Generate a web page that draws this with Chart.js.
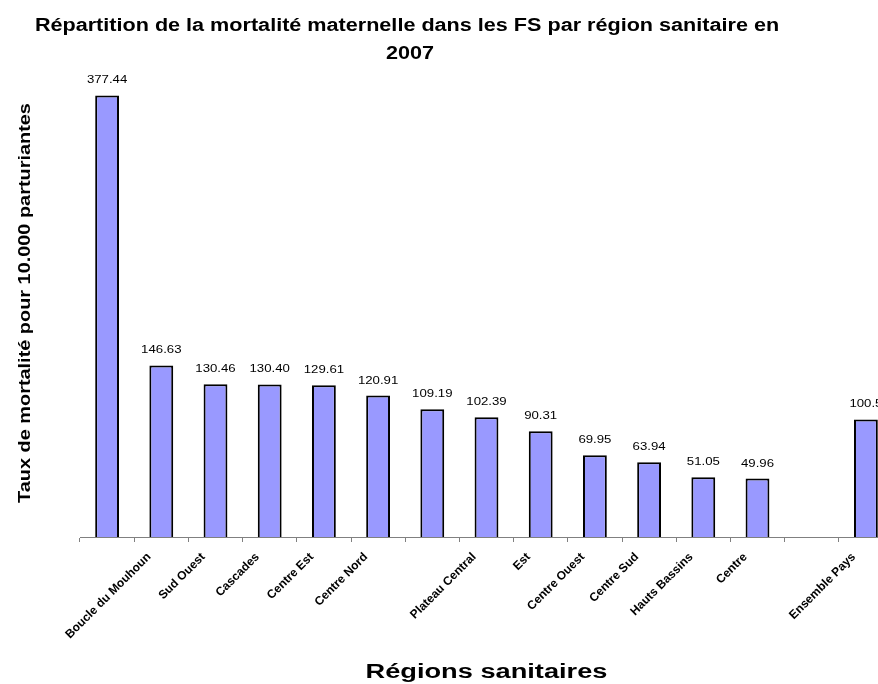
<!DOCTYPE html>
<html lang="fr">
<head>
<meta charset="utf-8">
<title>Mortalité maternelle 2007</title>
<script src="https://cdn.jsdelivr.net/npm/chart.js@4.4.0/dist/chart.umd.min.js"></script>
<style>
    html, body { margin: 0; padding: 0; background: #fff; overflow: hidden; }
    #wrap { width: 900px; height: 684px; }
</style>
</head>
<body>
<div id="wrap"><canvas id="chart" width="900" height="684"></canvas></div>
<script>
// Catégories (régions sanitaires), telles qu'affichées sous l'axe
const regions = [
    'Boucle du Mouhoun', 'Sud Ouest', 'Cascades', 'Centre Est', 'Centre Nord', '',
    'Plateau Central', 'Est', 'Centre Ouest', 'Centre Sud', 'Hauts Bassins', 'Centre', '',
    'Ensemble Pays', ''
];

// Taux de mortalité pour 10.000 parturiantes
const taux = [377.44, 146.63, 130.46, 130.40, 129.61, 120.91, 109.19, 102.39, 90.31, 69.95, 63.94, 51.05, 49.96, null, 100.5];
const tauxTexte = ['377.44', '146.63', '130.46', '130.40', '129.61', '120.91', '109.19', '102.39', '90.31', '69.95', '63.94', '51.05', '49.96', '', '100.5'];

const titre = ['Répartition de la mortalité maternelle dans les FS par région sanitaire en', '2007'];
const titreX = 'Régions sanitaires';
const titreY = 'Taux de mortalité pour 10.000 parturiantes';
const FONT = "'Liberation Sans', Arial, sans-serif";

/**
 * Draw text stretched along its direction (the original texts are wider than Arial)
 */
function drawStretched(ctx, text, x, y, font, sx, rotation) {
    ctx.save();
    ctx.font = font;
    ctx.translate(x, y);
    if (rotation) ctx.rotate(rotation);
    ctx.scale(sx, 1);
    ctx.fillText(text, 0, 0);
    ctx.restore();
}

/**
 * Titres du graphique et des axes
 */
const titlePlugin = {
    id: 'titles',
    afterDraw(chart) {
        const ctx = chart.ctx;
        const area = chart.chartArea;
        ctx.save();
        ctx.fillStyle = '#000';
        ctx.textAlign = 'center';
        ctx.textBaseline = 'alphabetic';
        drawStretched(ctx, titre[0], 407, 31, 'bold 18px ' + FONT, 1.2);
        drawStretched(ctx, titre[1], 410, 59, 'bold 18px ' + FONT, 1.2);
        drawStretched(ctx, titreX, (area.left + area.right) / 2, 678, 'bold 20px ' + FONT, 1.36);
        drawStretched(ctx, titreY, 30, (area.top + area.bottom) / 2, 'bold 17px ' + FONT, 1.17, -Math.PI / 2);
        ctx.restore();
    }
};

/**
 * Valeurs au-dessus des barres
 */
const valuePlugin = {
    id: 'valueLabels',
    afterDatasetsDraw(chart) {
        const ctx = chart.ctx;
        const meta = chart.getDatasetMeta(0);
        ctx.save();
        ctx.fillStyle = '#000';
        ctx.textAlign = 'center';
        ctx.textBaseline = 'alphabetic';
        meta.data.forEach(function(bar, i) {
            if (taux[i] === null) return;
            drawStretched(ctx, tauxTexte[i], bar.x, bar.y - 12, '11px ' + FONT, 1.2);
        });
        ctx.restore();
    }
};

new Chart(document.getElementById('chart'), {
    type: 'bar',
    data: {
        labels: regions,
        datasets: [{
            data: taux,
            backgroundColor: '#9999ff',
            borderColor: '#000000',
            borderWidth: 2,
            barPercentage: 0.44,
            categoryPercentage: 1.0
        }]
    },
    options: {
        responsive: false,
        animation: false,
        layout: { padding: { top: 69, right: 7, left: 0, bottom: 0 } },
        plugins: {
            legend: { display: false },
            tooltip: { enabled: false },
            title: { display: false }
        },
        scales: {
            x: {
                grid: { display: true, drawOnChartArea: false, color: '#808080', tickLength: 5, offset: true },
                border: { display: true, color: '#808080', width: 1 },
                ticks: {
                    autoSkip: false,
                    maxRotation: 45,
                    minRotation: 45,
                    padding: 8,
                    labelOffset: 42,
                    color: '#000',
                    font: { family: FONT, size: 12, weight: 'bold' }
                },
                afterFit: function(scale) { scale.height = 147; }
            },
            y: {
                min: 0,
                max: 400,
                grid: { display: false },
                border: { display: false },
                ticks: { display: false },
                afterFit: function(scale) { scale.width = 80; }
            }
        }
    },
    plugins: [titlePlugin, valuePlugin]
});
</script>
</body>
</html>
